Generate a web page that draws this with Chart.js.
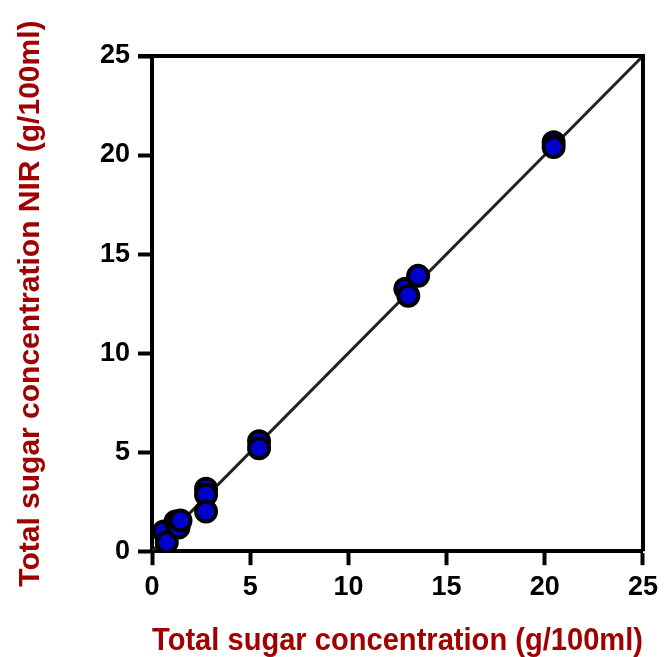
<!DOCTYPE html>
<html>
<head>
<meta charset="utf-8">
<script src="https://cdn.jsdelivr.net/npm/chart.js@4"></script>
<style>
    html, body { margin: 0; padding: 0; background: #fff; }
    #wrap { width: 664px; height: 657px; }
</style>
</head>
<body>
<div id="wrap"><canvas id="scatterChart"></canvas></div>
<script>
// --- Data ---
const refX = [0.6, 0.75, 1.2, 1.35, 1.45, 2.75, 2.75, 2.75, 5.45, 5.45, 12.9, 13.05, 13.55, 20.45, 20.45];
const nirY = [1.0, 0.45, 1.5, 1.2, 1.55, 3.15, 2.85, 2.0, 5.55, 5.2, 13.25, 12.9, 13.9, 20.65, 20.4];
const lineX = [0, 25];
const lineY = [0, 25];
const tickValues = [0, 5, 10, 15, 20, 25];

const titleColor = '#a00000';
const fontFamily = '"Liberation Sans", Arial, sans-serif';

// draws the closed box round the plot (top + right edges)
const frameBox = {
    id: 'frameBox',
    afterDatasetsDraw(chart) {
        const { ctx, chartArea } = chart;
        ctx.save();
        ctx.strokeStyle = '#000';
        ctx.lineWidth = 4;
        ctx.beginPath();
        ctx.moveTo(chartArea.left - 14, chartArea.top);
        ctx.lineTo(chartArea.right, chartArea.top);
        ctx.lineTo(chartArea.right, chartArea.bottom);
        ctx.stroke();
        ctx.restore();
    }
};

const axisCommon = (title, titlePad, tickPad, titleSize) => ({
    type: 'linear',
    min: 0,
    max: 25,
    afterBuildTicks: (axis) => { axis.ticks = tickValues.map(v => ({ value: v })); },
    border: { display: true, color: '#000', width: 4 },
    grid: {
        drawOnChartArea: false,
        drawTicks: true,
        tickLength: 14,
        tickWidth: 4,
        tickColor: '#000'
    },
    ticks: {
        color: '#000',
        padding: tickPad,
        font: { family: fontFamily, size: 27, weight: 'bold' }
    },
    title: {
        display: true,
        text: title,
        color: titleColor,
        padding: titlePad,
        font: { family: fontFamily, size: titleSize, weight: 'bold' }
    }
});

document.addEventListener("DOMContentLoaded", () => {
    const ctx = document.getElementById('scatterChart');
    new Chart(ctx, {
        type: 'scatter',
        data: {
            datasets: [
                {
                    label: 'Samples',
                    data: refX.map((x, i) => ({ x: x, y: nirY[i] })),
                    backgroundColor: '#0000cc',
                    borderColor: '#000',
                    borderWidth: 4,
                    pointRadius: 10,
                    pointHoverRadius: 10,
                    order: 0
                },
                {
                    type: 'line',
                    label: 'Fit',
                    data: lineX.map((x, i) => ({ x: x, y: lineY[i] })),
                    borderColor: '#222',
                    borderWidth: 3,
                    pointRadius: 0,
                    fill: false,
                    order: 1
                }
            ]
        },
        options: {
            responsive: true,
            maintainAspectRatio: false,
            animation: false,
            layout: { padding: { left: 13, right: 21, top: 56, bottom: 0 } },
            plugins: {
                legend: { display: false },
                tooltip: { enabled: false }
            },
            scales: {
                x: axisCommon('Total sugar concentration (g/100ml)', { top: 12, bottom: -3 }, 6, 32),
                y: axisCommon('Total sugar concentration NIR (g/100ml)', { top: 0, bottom: 43 }, 8, 30)
            }
        },
        plugins: [frameBox]
    });
});
</script>
</body>
</html>
